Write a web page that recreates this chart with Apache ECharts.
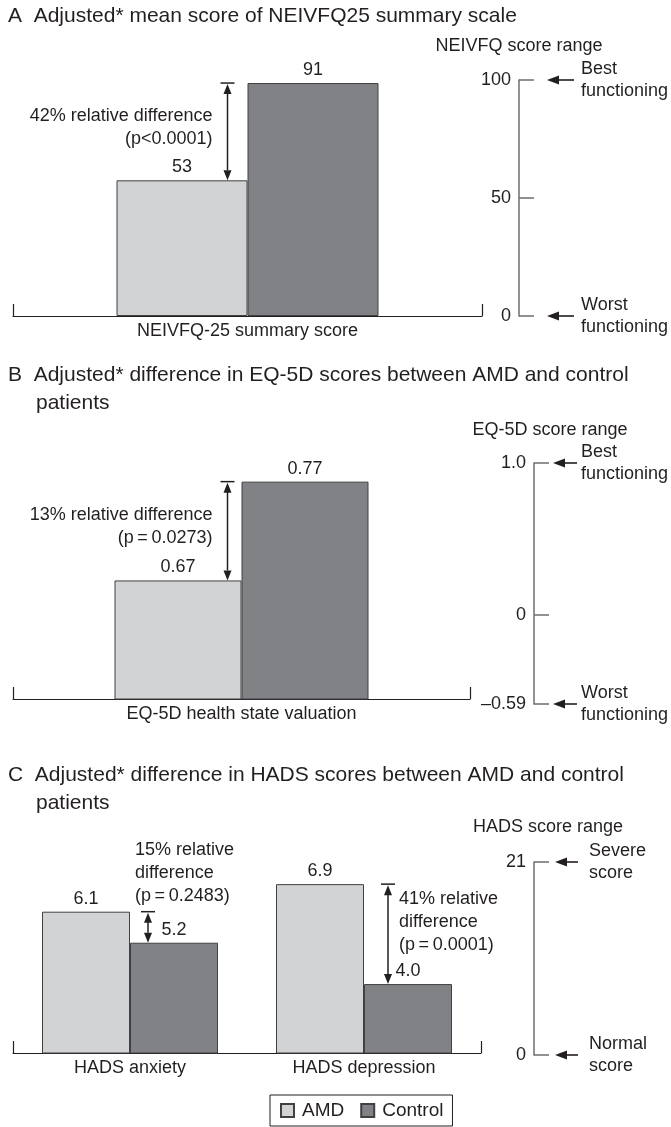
<!DOCTYPE html>
<html><head><meta charset="utf-8">
<script src="https://cdn.jsdelivr.net/npm/echarts@6/dist/echarts.min.js"></script>
<style>html,body{margin:0;padding:0;background:#fff}#c{width:671px;height:1127px}</style>
</head><body><div id="c"></div>
<script>
// ---------- data ----------
const seriesNames = ['AMD', 'Control'];

const catsA = ['NEIVFQ-25 summary score'];
const amdA = [53];
const ctrlA = [91];
const diffTextA = [['42% relative difference', '(p<0.0001)']];

const catsB = ['EQ-5D health state valuation'];
const amdB = [0.67];
const ctrlB = [0.77];
const diffTextB = [['13% relative difference', '(p\u2009=\u20090.0273)']];

const catsC = ['HADS anxiety', 'HADS depression'];
const amdC = [6.1, 6.9];
const ctrlC = [5.2, 4.0];
const diffTextC = [['15% relative', 'difference', '(p\u2009=\u20090.2483)'],
                   ['41% relative', 'difference', '(p\u2009=\u20090.0001)']];

const scaleTicksA = [0, 50, 100];
const scaleLabelsA = ['0', '50', '100'];
const scaleEndsA = [[0, 'Worst\nfunctioning'], [100, 'Best\nfunctioning']];

const scaleTicksB = [-0.59, 0, 1.0];
const scaleLabelsB = ['\u20130.59', '0', '1.0'];
const scaleEndsB = [[-0.59, 'Worst\nfunctioning'], [1.0, 'Best\nfunctioning']];

const scaleTicksC = [0, 21];
const scaleLabelsC = ['0', '21'];
const scaleEndsC = [[0, 'Normal\nscore'], [21, 'Severe\nscore']];

// ---------- styles ----------
const FONT = 'Liberation Sans';
const INK = '#231f20';
const AMD_COLOR = '#d1d3d4';
const CTRL_COLOR = '#808285';
const BORDER = '#414042';
const SCALE_LINE = '#6d6e71';

// ---------- helpers ----------
function diffData(amd, ctrl) {
  return amd.map((a, i) => [i, Math.min(a, ctrl[i]), Math.max(a, ctrl[i])]);
}

function diffArrow(texts, layout) {
  return function (params, api) {
    const i = params.dataIndex;
    const L = layout[i];
    const pLo = api.coord([api.value(0), api.value(1)]);
    const pHi = api.coord([api.value(0), api.value(2)]);
    const x = pLo[0] + L.dx;
    const yTop = pHi[1], yBot = pLo[1];
    const head = 10, hw = 4;
    const st = { stroke: INK, lineWidth: 1.5 };
    let ty;
    if (L.anchor === 'mid') ty = (yTop + yBot) / 2 + L.ty;
    else ty = yTop + L.ty;
    return {
      type: 'group',
      children: [
        { type: 'line', shape: { x1: x - 7, y1: yTop, x2: x + 7, y2: yTop }, style: st },
        { type: 'line', shape: { x1: x, y1: yTop + head, x2: x, y2: yBot - head }, style: st },
        { type: 'polygon', shape: { points: [[x, yTop + 1], [x - hw, yTop + head + 1], [x + hw, yTop + head + 1]] }, style: { fill: INK } },
        { type: 'polygon', shape: { points: [[x, yBot], [x - hw, yBot - head], [x + hw, yBot - head]] }, style: { fill: INK } },
        { type: 'text', x: x + L.tx, y: ty,
          style: { text: texts[i].join('\n'), align: L.align, verticalAlign: L.va,
                   font: '18px "' + FONT + '"', lineHeight: 23, fill: INK } }
      ]
    };
  };
}

function scaleArrow(ends, lay) {
  return function (params, api) {
    const p = api.coord([0, api.value(0)]);
    const y = p[1];
    const xh = p[0] + lay.head, xt = p[0] + lay.tail;
    return {
      type: 'group',
      children: [
        { type: 'line', shape: { x1: xh + 8, y1: y, x2: xt, y2: y }, style: { stroke: INK, lineWidth: 1.6 } },
        { type: 'polygon', shape: { points: [[xh, y], [xh + 12, y - 4.5], [xh + 12, y + 4.5]] }, style: { fill: INK } },
        { type: 'text', x: p[0] + lay.text, y: y,
          style: { text: ends[params.dataIndex][1], align: 'left', verticalAlign: 'middle',
                   font: '18px "' + FONT + '"', lineHeight: 22, fill: INK } }
      ]
    };
  };
}

function fmt(dec) { return p => Number(p.value).toFixed(dec); }

function barX(cats, gi) {
  return {
    type: 'category', gridIndex: gi, data: cats,
    axisLine: { lineStyle: { color: INK, width: 1.2 } },
    axisTick: { show: true, inside: true, length: 12, interval: (i) => i === 0, lineStyle: { color: INK, width: 1.2 } },
    axisLabel: { interval: 0, fontSize: 18, fontFamily: FONT, color: INK, margin: 6 }
  };
}
function hiddenY(gi, min, max) {
  return { type: 'value', gridIndex: gi, min: min, max: max, show: false };
}
function scaleX(gi) {
  return { type: 'value', gridIndex: gi, min: 0, max: 1, show: false };
}
function scaleY(gi, min, max, ticks, labels, name, gap, padLeft) {
  return {
    type: 'value', gridIndex: gi, min: min, max: max,
    name: name, nameLocation: 'end', nameGap: gap,
    nameTextStyle: { fontSize: 18, fontFamily: FONT, color: INK, padding: [0, 0, 0, padLeft] },
    axisLine: { show: true, lineStyle: { color: SCALE_LINE, width: 1.5 } },
    axisTick: { show: true, inside: true, length: 15, customValues: ticks, lineStyle: { color: SCALE_LINE, width: 1.5 } },
    axisLabel: { customValues: ticks, margin: 8, fontSize: 18, fontFamily: FONT, color: INK,
      formatter: v => { const k = ticks.findIndex(t => Math.abs(t - v) < 1e-9); return k >= 0 ? labels[k] : ''; } },
    splitLine: { show: false }
  };
}
function bars(gi, amd, ctrl, width, dec) {
  const common = {
    type: 'bar', xAxisIndex: gi, yAxisIndex: gi, barWidth: width, barGap: '0%',
    label: { show: true, position: 'top', distance: 4, fontSize: 18, fontFamily: FONT, color: INK, formatter: fmt(dec) },
    silent: true, animation: false
  };
  return [
    Object.assign({}, common, { name: seriesNames[0], data: amd, itemStyle: { color: AMD_COLOR, borderColor: BORDER, borderWidth: 1 } }),
    Object.assign({}, common, { name: seriesNames[1], data: ctrl, itemStyle: { color: CTRL_COLOR, borderColor: BORDER, borderWidth: 1 } })
  ];
}

const titleStyle = { fontSize: 21, fontWeight: 'normal', fontFamily: FONT, color: INK, lineHeight: 26 };

const option = {
  animation: false,
  title: [
    { text: 'A  Adjusted* mean score of NEIVFQ25 summary scale', left: 8, top: 3, padding: 0, textStyle: titleStyle },
    { text: 'B  Adjusted* difference in EQ-5D scores between AMD and control', left: 8, top: 362, padding: 0, textStyle: titleStyle },
    { text: 'patients', left: 36, top: 390, padding: 0, textStyle: titleStyle },
    { text: 'C  Adjusted* difference in HADS scores between AMD and control', left: 8, top: 762, padding: 0, textStyle: titleStyle },
    { text: 'patients', left: 36, top: 790, padding: 0, textStyle: titleStyle }
  ],
  legend: {
    data: seriesNames, icon: 'rect', left: 270, top: 1095, itemWidth: 13, itemHeight: 13, itemGap: 16,
    borderColor: INK, borderWidth: 1, padding: [6, 9, 6, 10],
    textStyle: { fontSize: 19, fontFamily: FONT, color: INK, padding: [0, 0, 0, 3] }
  },
  grid: [
    { left: 13, width: 469, top: 60, height: 256 },   // A bars
    { left: 519, width: 120, top: 80, height: 236 },  // A scale
    { left: 13, width: 457, top: 452, height: 247 },  // B bars
    { left: 534, width: 120, top: 463, height: 241 }, // B scale
    { left: 13, width: 468, top: 860, height: 193 },  // C bars
    { left: 534, width: 120, top: 862, height: 193 }  // C scale
  ],
  xAxis: [barX(catsA, 0), scaleX(1), barX(catsB, 2), scaleX(3), barX(catsC, 4), scaleX(5)],
  yAxis: [
    hiddenY(0, 0, 100),
    scaleY(1, 0, 100, scaleTicksA, scaleLabelsA, 'NEIVFQ score range', 25, 0),
    hiddenY(2, 0.55, 0.8),
    scaleY(3, -0.59, 1.0, scaleTicksB, scaleLabelsB, 'EQ-5D score range', 24, 32),
    hiddenY(4, 2, 7.6),
    scaleY(5, 0, 21, scaleTicksC, scaleLabelsC, 'HADS score range', 26, 28)
  ],
  series: [
    ...bars(0, amdA, ctrlA, 131, 0),
    ...bars(2, amdB, ctrlB, 127, 2),
    ...bars(4, amdC, ctrlC, 88, 1),
    { type: 'custom', xAxisIndex: 0, yAxisIndex: 0, clip: false, silent: true, z: 5,
      data: diffData(amdA, ctrlA),
      renderItem: diffArrow(diffTextA, [{ dx: -20, tx: -15, ty: -4.5, anchor: 'mid', align: 'right', va: 'middle' }]) },
    { type: 'custom', xAxisIndex: 2, yAxisIndex: 2, clip: false, silent: true, z: 5,
      data: diffData(amdB, ctrlB),
      renderItem: diffArrow(diffTextB, [{ dx: -14, tx: -15, ty: -4.5, anchor: 'mid', align: 'right', va: 'middle' }]) },
    { type: 'custom', xAxisIndex: 4, yAxisIndex: 4, clip: false, silent: true, z: 5,
      data: diffData(amdC, ctrlC),
      renderItem: diffArrow(diffTextC, [
        { dx: 18, tx: -13, ty: -4.5, anchor: 'top', align: 'left', va: 'bottom' },
        { dx: 24, tx: 11, ty: -12, anchor: 'mid', align: 'left', va: 'middle' }]) },
    { type: 'custom', xAxisIndex: 1, yAxisIndex: 1, clip: false, silent: true,
      data: scaleEndsA.map(e => [e[0]]), renderItem: scaleArrow(scaleEndsA, { head: 28, tail: 55, text: 62 }) },
    { type: 'custom', xAxisIndex: 3, yAxisIndex: 3, clip: false, silent: true,
      data: scaleEndsB.map(e => [e[0]]), renderItem: scaleArrow(scaleEndsB, { head: 19, tail: 43, text: 47 }) },
    { type: 'custom', xAxisIndex: 5, yAxisIndex: 5, clip: false, silent: true,
      data: scaleEndsC.map(e => [e[0]]), renderItem: scaleArrow(scaleEndsC, { head: 21, tail: 44, text: 55 }) }
  ]
};

const chart = echarts.init(document.getElementById('c'), null, { renderer: 'canvas' });
chart.setOption(option);
</script>
</body></html>
